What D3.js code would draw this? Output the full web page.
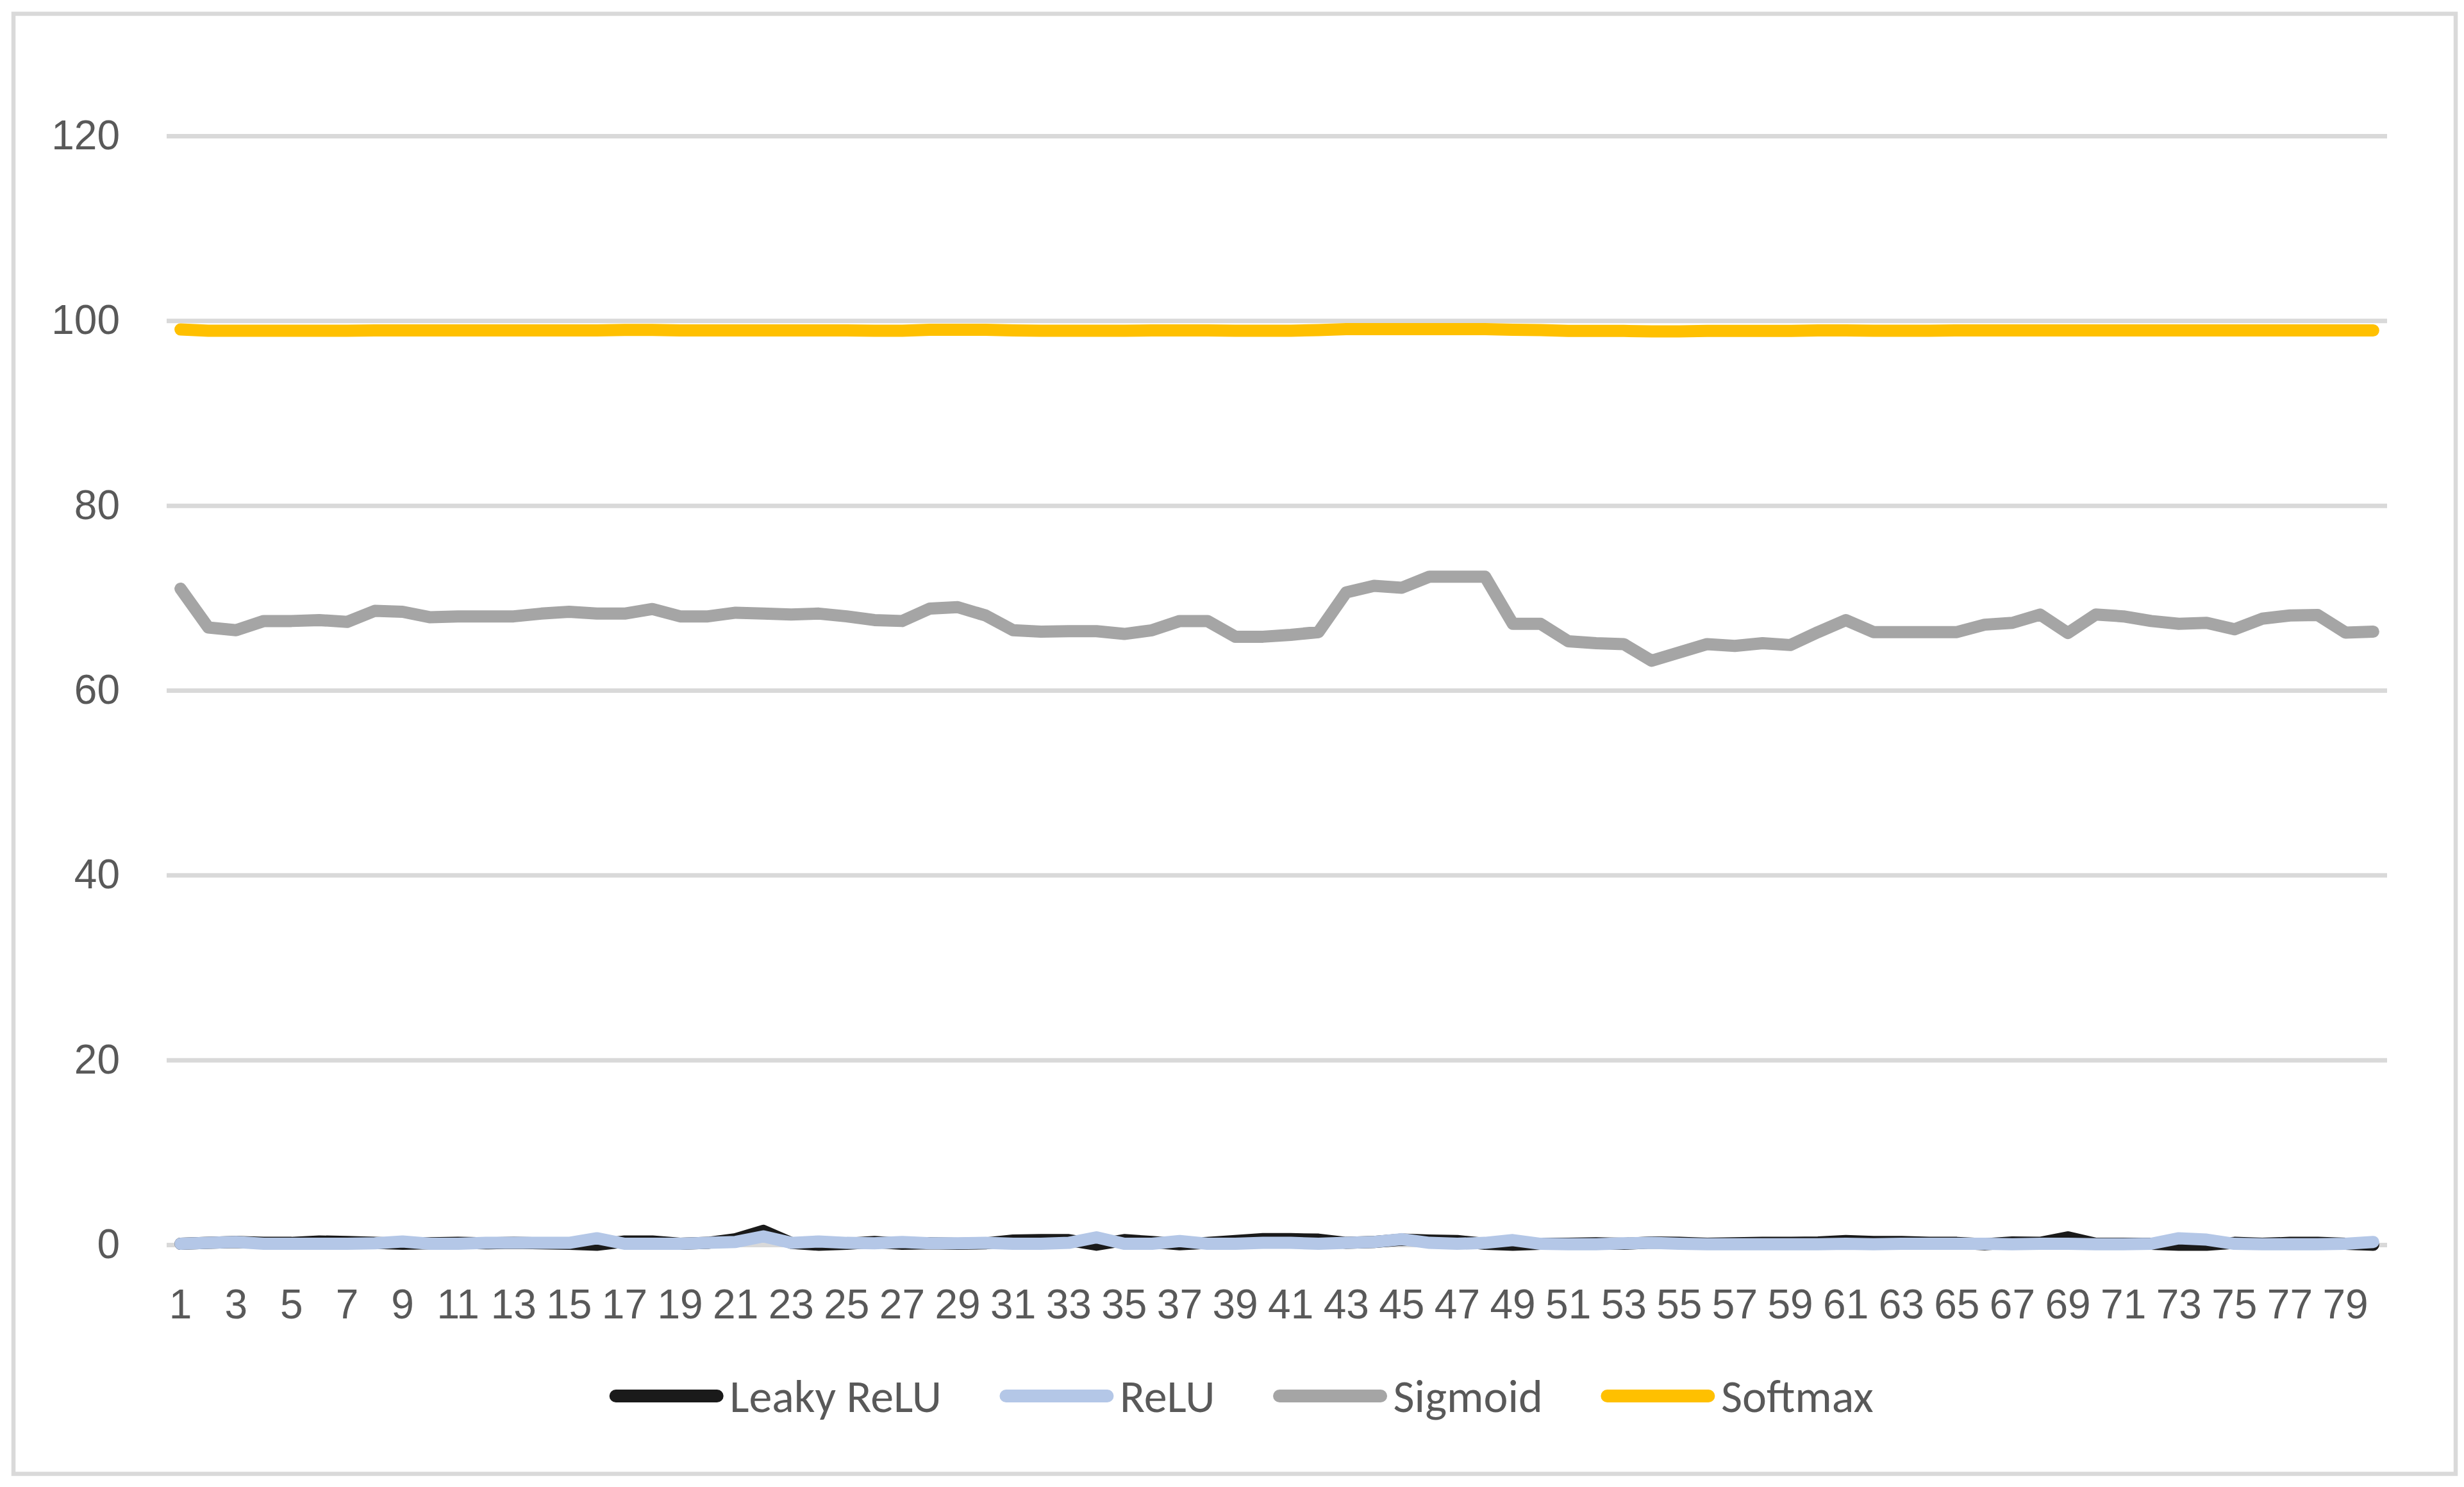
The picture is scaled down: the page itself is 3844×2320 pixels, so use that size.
<!DOCTYPE html>
<html>
<head>
<meta charset="utf-8">
<script src="https://cdn.jsdelivr.net/npm/d3@7"></script>
<style>
  html, body { margin: 0; padding: 0; background: #fff; }
  svg { display: block; font-family: Calibri, Carlito, Lato, sans-serif; }
</style>
</head>
<body>
<script>
// categories 1..80 (epochs), every other one is labelled on the axis
const categories = d3.range(1, 81);
const xTickLabels = categories.filter(d => d % 2 === 1);
const yTicks = [0, 20, 40, 60, 80, 100, 120];

const seriesNames = ["Leaky ReLU", "ReLU", "Sigmoid", "Softmax"];

const leakyRelu = [
    0.1, 0.2, 0.3, 0.2, 0.2, 0.35, 0.3, 0.2, 0.1, 0.15,
    0.2, 0.15, 0.2, 0.15, 0.1, 0.0, 0.35, 0.35, 0.1, 0.2,
    0.6, 1.5, 0.2, 0.0, 0.1, 0.3, 0.1, 0.15, 0.1, 0.15,
    0.45, 0.5, 0.5, 0.0, 0.5, 0.3, 0.05, 0.2, 0.4, 0.6,
    0.6, 0.55, 0.2, 0.3, 0.55, 0.45, 0.4, 0.1, 0.0, 0.1,
    0.1, 0.15, 0.1, 0.25, 0.2, 0.1, 0.15, 0.2, 0.2, 0.25,
    0.4, 0.3, 0.3, 0.2, 0.2, 0.05, 0.25, 0.2, 0.8, 0.1,
    0.1, 0.1, 0.0, 0.0, 0.2, 0.1, 0.2, 0.2, 0.1, 0.0
];

const relu = [
    0.1, 0.2, 0.3, 0.1, 0.1, 0.1, 0.1, 0.15, 0.35, 0.1,
    0.1, 0.2, 0.2, 0.2, 0.2, 0.7, 0.1, 0.1, 0.1, 0.2,
    0.3, 0.9, 0.2, 0.35, 0.2, 0.15, 0.3, 0.15, 0.15, 0.2,
    0.1, 0.1, 0.2, 0.8, 0.1, 0.1, 0.4, 0.1, 0.1, 0.2,
    0.2, 0.1, 0.2, 0.3, 0.6, 0.2, 0.1, 0.2, 0.5, 0.1,
    0.05, 0.05, 0.15, 0.2, 0.1, 0.05, 0.05, 0.05, 0.05, 0.05,
    0.1, 0.05, 0.1, 0.1, 0.1, 0.1, 0.05, 0.1, 0.1, 0.05,
    0.05, 0.1, 0.7, 0.55, 0.1, 0.05, 0.05, 0.05, 0.1, 0.3
];

const sigmoid = [
    71.0, 66.8, 66.5, 67.5, 67.5, 67.6, 67.4, 68.6, 68.5, 67.9,
    68.0, 68.0, 68.0, 68.3, 68.5, 68.3, 68.3, 68.8, 68.0, 68.0,
    68.4, 68.3, 68.2, 68.3, 68.0, 67.6, 67.5, 68.85, 69.0, 68.1,
    66.5, 66.35, 66.4, 66.4, 66.1, 66.5, 67.5, 67.5, 65.8, 65.8,
    66.0, 66.3, 70.6, 71.3, 71.1, 72.3, 72.3, 72.3, 67.2, 67.2,
    65.3, 65.1, 65.0, 63.2, 64.1, 65.0, 64.8, 65.1, 64.9, 66.3,
    67.6, 66.3, 66.3, 66.3, 66.3, 67.1, 67.3, 68.2, 66.2, 68.2,
    68.0, 67.5, 67.2, 67.3, 66.6, 67.75, 68.1, 68.15, 66.25, 66.35
];

const softmax = [
    99.05, 98.92, 98.92, 98.92, 98.92, 98.92, 98.92, 98.95, 98.95, 98.95,
    98.95, 98.95, 98.95, 98.95, 98.95, 98.95, 99.0, 99.0, 98.95, 98.95,
    98.95, 98.95, 98.95, 98.95, 98.95, 98.92, 98.92, 99.02, 99.02, 99.02,
    98.94, 98.91, 98.91, 98.91, 98.91, 98.94, 98.94, 98.94, 98.91, 98.91,
    98.91, 98.99, 99.09, 99.09, 99.09, 99.09, 99.09, 99.09, 99.02, 98.99,
    98.89, 98.89, 98.89, 98.84, 98.84, 98.89, 98.89, 98.89, 98.89, 98.94,
    98.94, 98.91, 98.91, 98.91, 98.95, 98.95, 98.95, 98.95, 98.95, 98.95,
    98.95, 98.95, 98.95, 98.95, 98.95, 98.95, 98.95, 98.95, 98.95, 98.95
];

const colors = ["#1a1a1a", "#b4c7e7", "#a5a5a5", "#ffc000"];
const seriesValues = [leakyRelu, relu, sigmoid, softmax];

const width = 3844;
const height = 2320;
const plot = { left: 260, right: 3724, top: 212, bottom: 1942 };
const lineWidth = 19;
const textColor = "#595959";
const gridColor = "#d9d9d9";

const svg = d3.select("body")
    .append("svg")
    .attr("width", width)
    .attr("height", height);

// chart area frame
svg.append("rect")
    .attr("x", 21)
    .attr("y", 21.5)
    .attr("width", 3810)
    .attr("height", 2278)
    .attr("fill", "#fff")
    .attr("stroke", gridColor)
    .attr("stroke-width", 6.5);

const x = d3.scaleBand()
    .domain(categories)
    .range([plot.left, plot.right]);
const xc = d => x(d) + x.bandwidth() / 2;

const y = d3.scaleLinear()
    .domain([0, 120])
    .range([plot.bottom, plot.top]);

// value axis with gridlines
const yAxis = svg.append("g")
    .attr("transform", `translate(${plot.left},0)`)
    .call(d3.axisLeft(y)
        .tickValues(yTicks)
        .tickSize(-(plot.right - plot.left))
        .tickPadding(73));
yAxis.select(".domain").remove();
yAxis.selectAll("line")
    .attr("stroke", gridColor)
    .attr("stroke-width", 7);
yAxis.selectAll("text")
    .attr("fill", textColor)
    .style("font-size", "64px");

// category axis
const xAxis = svg.append("g")
    .attr("transform", `translate(0,${plot.bottom})`)
    .call(d3.axisBottom(x)
        .tickValues(xTickLabels)
        .tickSize(0)
        .tickPadding(70));
xAxis.select(".domain").remove();
xAxis.selectAll("text")
    .attr("fill", textColor)
    .style("font-size", "64px");

const line = d3.line()
    .x((d, i) => xc(categories[i]))
    .y(d => y(d));

svg.append("g")
    .selectAll("path")
    .data(seriesValues)
    .join("path")
    .attr("d", d => line(d))
    .attr("fill", "none")
    .attr("stroke", (d, i) => colors[i])
    .attr("stroke-width", lineWidth)
    .attr("stroke-linejoin", "round")
    .attr("stroke-linecap", "round");

// legend
const legend = svg.append("g");
const swatch = 177;
const legendY = 2178;
let cursor = 0;
seriesNames.forEach((name, i) => {
    const item = legend.append("g").attr("transform", `translate(${cursor},0)`);
    item.append("line")
        .attr("x1", lineWidth / 2)
        .attr("x2", swatch - lineWidth / 2)
        .attr("y1", legendY)
        .attr("y2", legendY)
        .attr("stroke", colors[i])
        .attr("stroke-width", lineWidth + 1)
        .attr("stroke-linecap", "round");
    const label = item.append("text")
        .attr("x", swatch + 10)
        .attr("y", legendY + 25)
        .attr("fill", textColor)
        .style("font-size", "72px")
        .text(name);
    cursor += swatch + 10 + label.node().getComputedTextLength() + 91;
});
const legendWidth = cursor - 91;
legend.attr("transform", `translate(${1937 - legendWidth / 2},0)`);
</script>
</body>
</html>
